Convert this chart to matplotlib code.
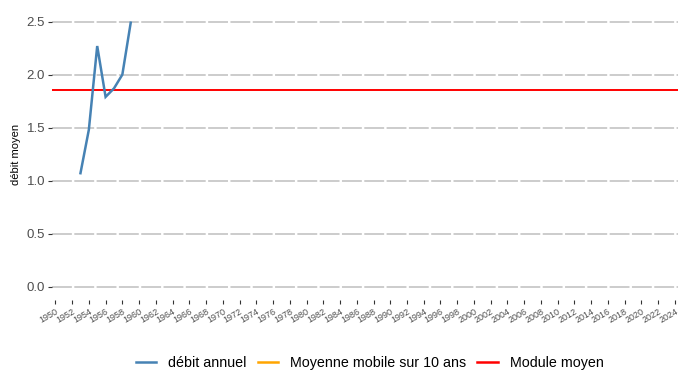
import numpy as np
import matplotlib.pyplot as plt
from matplotlib.lines import Line2D

plt.rcParams['font.family'] = ['Liberation Sans', 'DejaVu Sans']

# annual mean discharge
years = [1953, 1954, 1955, 1956, 1957, 1958, 1959]
debit = [1.07, 1.48, 2.27, 1.79, 1.87, 2.0, 2.49]

# 10-year rolling mean (needs at least 10 years of data)
window = 10
debit_s = np.array(debit)
if len(debit_s) >= window:
    rolling = np.convolve(debit_s, np.ones(window) / window, mode='valid')
    rolling_years = years[window - 1:]
else:
    rolling = []
    rolling_years = []

module = debit_s.mean()

xticks = list(range(1950, 2025, 2))
yticks = [0.0, 0.5, 1.0, 1.5, 2.0, 2.5]

fig = plt.figure(figsize=(6.87, 3.72), dpi=100)
ax = fig.add_axes([0.0757, 0.194, 0.911, 0.782])

for y in yticks:
    ax.axhline(y, color='#bfbfbf', lw=1.1, linestyle=(0, (13, 1.6)), zorder=0)

ax.plot(years, debit, color='#4682b4', lw=1.8, solid_joinstyle='miter', zorder=3)
ax.plot(rolling_years, rolling, color='orange', lw=1.8, zorder=3)
ax.axhline(module, color='red', lw=1.4, zorder=2)

ax.set_xlim(1949.6, 2024.35)
ax.set_ylim(-0.125, 2.62)

ax.set_yticks(yticks)
ax.set_yticklabels([f'{v:.1f}' for v in yticks], fontsize=9.5, color='#4d4d4d')
ax.set_xticks(xticks)
ax.set_xticklabels([str(v) for v in xticks], fontsize=6.5, color='#4d4d4d',
                   rotation=30, ha='right', va='top', rotation_mode='anchor')
ax.tick_params(axis='y', length=3, width=0.8, color='#333333', pad=2)
ax.tick_params(axis='x', length=3, width=0.8, color='#333333', pad=2)

ax.set_ylabel('débit moyen', fontsize=8, color='black', labelpad=4)
for s in ax.spines.values():
    s.set_visible(False)

handles = [
    Line2D([], [], color='#4682b4', lw=1.8),
    Line2D([], [], color='orange', lw=1.8),
    Line2D([], [], color='red', lw=1.8),
]
labels = ['débit annuel', 'Moyenne mobile sur 10 ans', 'Module moyen']
fig.legend(handles, labels, loc='center', bbox_to_anchor=(0.538, 0.024), ncol=3,
           frameon=False, fontsize=10.3, handlelength=1.45, handletextpad=0.8,
           columnspacing=0.8, borderpad=0.1)

fig.savefig('out.png', dpi=100)
